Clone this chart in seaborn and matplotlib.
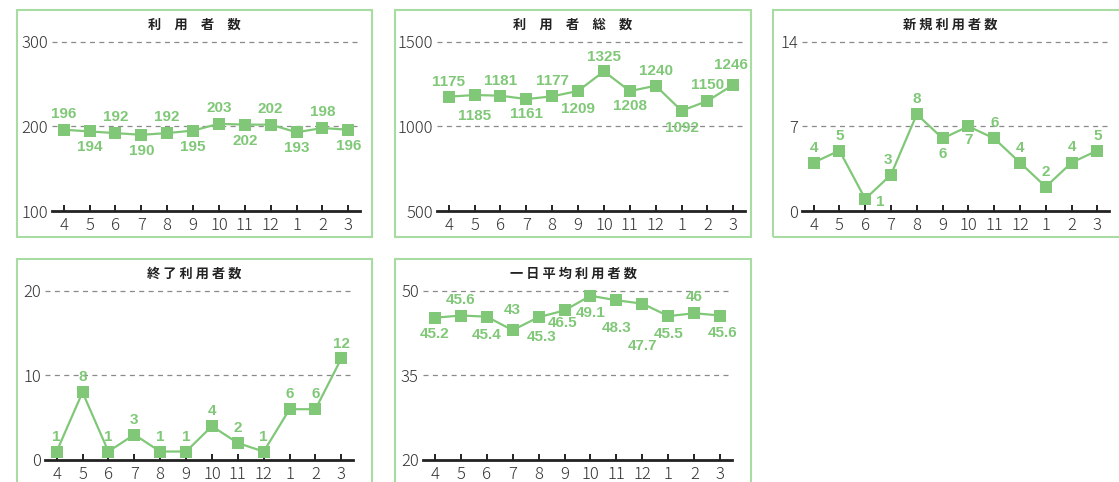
import matplotlib

matplotlib.use("Agg")

import matplotlib.pyplot as plt
from matplotlib.patches import Rectangle
import pandas as pd
import seaborn as sns

W, H = 1119, 482
GREEN = "#80c878"
BORDER = "#a9dca2"

MONTHS = ["4", "5", "6", "7", "8", "9", "10", "11", "12", "1", "2", "3"]

USERS = [196, 194, 192, 190, 192, 195, 203, 202, 202, 193, 198, 196]
TOTAL_USERS = [1175, 1185, 1181, 1161, 1177, 1209, 1325, 1208, 1240, 1092, 1150, 1246]
NEW_USERS = [4, 5, 1, 3, 8, 6, 7, 6, 4, 2, 4, 5]
ENDED_USERS = [1, 8, 1, 3, 1, 1, 4, 2, 1, 6, 6, 12]
DAILY_AVG = [45.2, 45.6, 45.4, 43, 45.3, 46.5, 49.1, 48.3, 47.7, 45.5, 46, 45.6]

TITLES = ["利　用　者　数", "利　用　者　総　数", "新 規 利 用 者 数", "終 了 利 用 者 数", "一 日 平 均 利 用 者 数"]
Y_TICKS = [[100, 200, 300], [500, 1000, 1500], [0, 7, 14], [0, 10, 20], [20, 35, 50]]

# label offsets in pixels (dx, dy), dy > 0 means above the marker
OFFSETS = [
    [(0, 16 if i % 2 == 0 else -16) for i in range(12)],
    [(0, 15), (0, -21), (0, 15), (0, -15), (0, 15), (0, -18),
     (0, 14), (0, -15), (0, 15), (0, -17), (0, 16), (-2, 20)],
    [(0, 15), (0, 15), (15, -3), (-3, 15), (0, 15), (0, -16),
     (0, -14), (0, 15), (0, 15), (0, 15), (0, 16), (0, 15)],
    [(0, 15)] * 11 + [(0, 14)],
    [(0, -16), (0, 16), (0, -18), (0, 20), (3, -20), (-2, -13),
     (0, -17), (0, -28), (0, -42), (0, -18), (0, 16), (2, -17)],
]

# panel box (l, t, r, b), axes area (l, r, top, bottom), title centre (x, y), all in pixels
PANELS = [
    ((17, 10, 372, 237), (52, 360, 41, 211), (194, 25)),
    ((395, 10, 751, 237), (437, 745, 41, 211), (573, 25)),
    ((773, 10, 1130, 237), (802, 1109, 41, 211), (950, 25)),
    ((17, 259, 372, 495), (45, 353, 290, 460), (194, 274)),
    ((395, 259, 751, 495), (423, 732, 290, 460), (573, 274)),
]

SERIES = [USERS, TOTAL_USERS, NEW_USERS, ENDED_USERS, DAILY_AVG]

sns.set_theme(style="white")
plt.rcParams["font.family"] = ["Noto Sans CJK JP", "DejaVu Sans"]


def fx(px):
    return px / W


def fy(py):
    return 1 - py / H


fig = plt.figure(figsize=(W / 100, H / 100), dpi=100)

for k, (box, area, title_pos) in enumerate(PANELS):
    bl, bt, br, bb = box
    fig.patches.append(
        Rectangle((fx(bl), fy(bb)), fx(br - bl), (bb - bt) / H, transform=fig.transFigure,
                  fill=False, edgecolor=BORDER, linewidth=1.5, zorder=0)
    )
    fig.text(fx(title_pos[0]), fy(title_pos[1]), TITLES[k], ha="center", va="center",
             fontsize=9.5, fontweight="bold", color="#222222")

    al, ar, at, ab = area
    ax = fig.add_axes([fx(al), fy(ab), fx(ar - al), (ab - at) / H])
    df = pd.DataFrame({"month": MONTHS, "value": SERIES[k]})
    sns.lineplot(data=df, x="month", y="value", sort=False, ax=ax, color=GREEN,
                 linewidth=1.6, marker="s", markersize=8.5, markeredgewidth=0,
                 markerfacecolor=GREEN)

    ticks = Y_TICKS[k]
    span = ticks[-1] - ticks[0]
    ax.set_ylim(ticks[0], ticks[-1] + span * 0.004)
    ax.set_xlim(-0.45, len(MONTHS) - 0.55)
    ax.set_yticks(ticks)
    ax.set_yticklabels([str(t) for t in ticks])
    ax.set_xlabel("")
    ax.set_ylabel("")
    ax.grid(axis="y", color="#8a8a8a", linestyle=(0, (4, 3.5)), linewidth=0.9)
    ax.grid(axis="x", visible=False)
    for side in ("top", "left", "right"):
        ax.spines[side].set_visible(False)
    ax.spines["bottom"].set_color("#222222")
    ax.spines["bottom"].set_linewidth(2)
    ax.spines["bottom"].set_zorder(5)
    ax.tick_params(axis="x", direction="in", length=4, width=1.4, color="#222222",
                   pad=4, labelsize=12, labelcolor="#333333", bottom=True)
    ax.tick_params(axis="y", length=0, pad=3, labelsize=12, labelcolor="#333333")
    for lab in ax.get_xticklabels() + ax.get_yticklabels():
        lab.set_fontweight("light")
    ax.set_facecolor("none")

    for i, v in enumerate(SERIES[k]):
        dx, dy = OFFSETS[k][i]
        ax.annotate(f"{v:g}", (i, v), xytext=(dx, dy), textcoords="offset pixels",
                    ha="center", va="center", fontsize=11, fontweight="bold",
                    family=["Liberation Sans", "DejaVu Sans"],
                    color=GREEN, annotation_clip=False)

fig.savefig("out.png", dpi=100)
